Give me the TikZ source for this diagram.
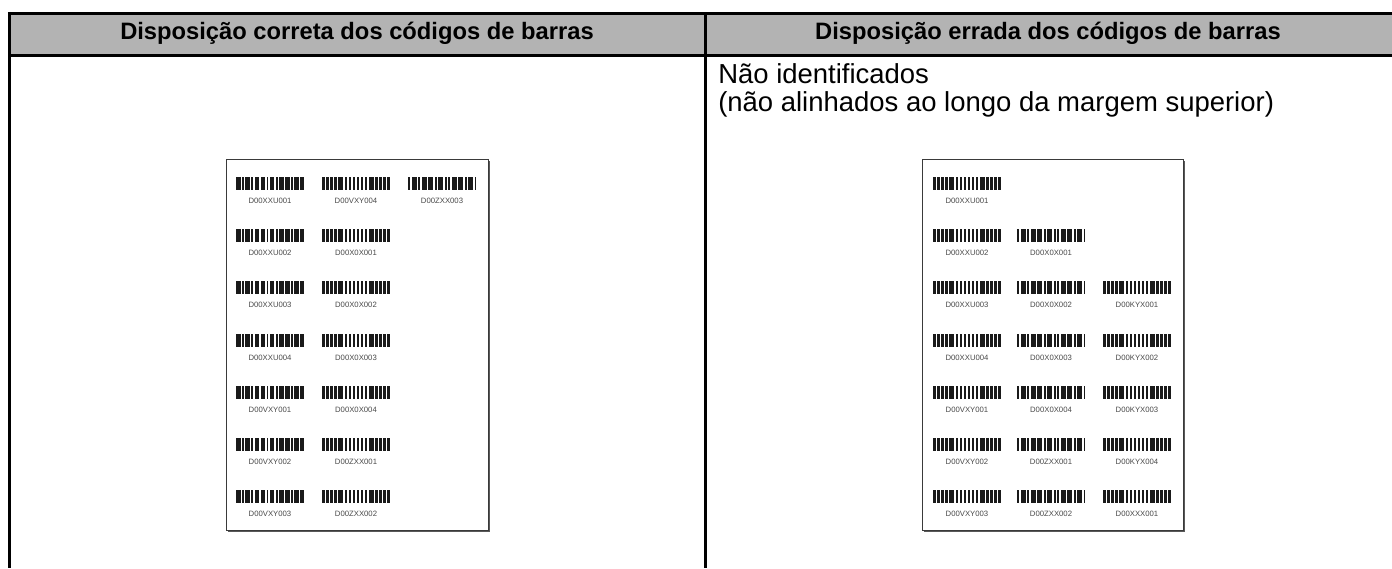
\documentclass[tikz,border=0pt]{standalone}
\usepackage{fontspec}
\setmainfont{Liberation Sans}
\definecolor{hdrgray}{HTML}{B3B3B3}
\definecolor{barink}{HTML}{1A1A1A}
\definecolor{lblink}{HTML}{4A4A4A}
\definecolor{pageedge}{HTML}{3A3A3A}
\tikzset{
  tableline/.style={line width=2.25pt,black},
  hdrtext/.style={font=\fontsize{17.8}{20}\selectfont\bfseries,text=black,inner sep=0pt},
  bodytext/.style={font=\fontsize{20.6}{23}\selectfont,text=black,inner sep=0pt,anchor=base west},
  pagebox/.style={draw=pageedge,line width=0.75pt,fill=white},
  pageshadow/.style={fill=black!65},
  barfill/.style={fill=barink},
  bclabel/.style={font=\fontsize{5.8}{6.5}\selectfont,text=lblink,inner sep=0pt}
}
\def\patA{0/4.5,6/7.5,9/13.5,15/17,18.5/23,24.5/29,30.5/32,33.5/38,39.5/41.5,43/47.5,49/53.5,55/56.5,58/62.5,64/68}
\def\patB{0/2.5,4/6.5,8/10.5,12/14.5,16/21,22.5/25,26.5/29,30.5/33,34.5/37,38.5/41,42.5/45,46.5/51.5,53/55.5,57/59.5,61/63.5,65/68}
\def\patC{0/2,3.5/8.5,10/12,13.5/18.5,20/25,26.5/28.5,30/35,36.5/38.5,40/42,43.5/48.5,50/55,56.5/58.5,60/65,66.5/68}
\newcommand\mybarcode[5]{%
  \begin{scope}[shift={(#2,#3)}]
    \foreach \a/\b in #4 {\fill[barfill] (\a,0) rectangle (\b,13);}
    \node[bclabel] (#1) at (34,24) {#5};
  \end{scope}}
\begin{document}
\begin{tikzpicture}[x=0.75pt,y=-0.75pt]
\useasboundingbox (0,0) rectangle (1392,568);
% header band
\fill[hdrgray] (9,13) rectangle (1392,55);
\draw[tableline] (7.9,13) -- (1392,13);
\draw[tableline] (9,55) -- (1392,55);
\draw[tableline] (9,11.9) -- (9,568);
\draw[tableline] (705,13) -- (705,568);
\node[hdrtext] (hleft) at (357,33.5) {Disposição correta dos códigos de barras};
\node[hdrtext] (hright) at (1048,33.5) {Disposição errada dos códigos de barras};
\node[bodytext] (t1) at (718,83) {Não identificados};
\node[bodytext] (t2) at (718,111) {(não alinhados ao longo da margem superior)};
% pages
\fill[pageshadow] (228,161) rectangle (490,532);
\draw[pagebox] (226,159) rectangle (488,530);
\node[inner sep=0pt] (pageL) at (357,344.5) {};
\fill[pageshadow] (924,161) rectangle (1185,532);
\draw[pagebox] (922,159) rectangle (1183,530);
\node[inner sep=0pt] (pageR) at (1052.5,344.5) {};
% left page barcodes
\mybarcode{L11}{236}{177}{\patA}{D00XXU001}
\mybarcode{L12}{322}{177}{\patB}{D00VXY004}
\mybarcode{L13}{408}{177}{\patC}{D00ZXX003}
\mybarcode{L21}{236}{229}{\patA}{D00XXU002}
\mybarcode{L22}{322}{229}{\patB}{D00X0X001}
\mybarcode{L31}{236}{281}{\patA}{D00XXU003}
\mybarcode{L32}{322}{281}{\patB}{D00X0X002}
\mybarcode{L41}{236}{334}{\patA}{D00XXU004}
\mybarcode{L42}{322}{334}{\patB}{D00X0X003}
\mybarcode{L51}{236}{386}{\patA}{D00VXY001}
\mybarcode{L52}{322}{386}{\patB}{D00X0X004}
\mybarcode{L61}{236}{438}{\patA}{D00VXY002}
\mybarcode{L62}{322}{438}{\patB}{D00ZXX001}
\mybarcode{L71}{236}{490}{\patA}{D00VXY003}
\mybarcode{L72}{322}{490}{\patB}{D00ZXX002}
% right page barcodes
\mybarcode{R11}{933}{177}{\patB}{D00XXU001}
\mybarcode{R21}{933}{229}{\patB}{D00XXU002}
\mybarcode{R22}{1017}{229}{\patC}{D00X0X001}
\mybarcode{R31}{933}{281}{\patB}{D00XXU003}
\mybarcode{R32}{1017}{281}{\patC}{D00X0X002}
\mybarcode{R33}{1103}{281}{\patB}{D00KYX001}
\mybarcode{R41}{933}{334}{\patB}{D00XXU004}
\mybarcode{R42}{1017}{334}{\patC}{D00X0X003}
\mybarcode{R43}{1103}{334}{\patB}{D00KYX002}
\mybarcode{R51}{933}{386}{\patB}{D00VXY001}
\mybarcode{R52}{1017}{386}{\patC}{D00X0X004}
\mybarcode{R53}{1103}{386}{\patB}{D00KYX003}
\mybarcode{R61}{933}{438}{\patB}{D00VXY002}
\mybarcode{R62}{1017}{438}{\patC}{D00ZXX001}
\mybarcode{R63}{1103}{438}{\patB}{D00KYX004}
\mybarcode{R71}{933}{490}{\patB}{D00VXY003}
\mybarcode{R72}{1017}{490}{\patC}{D00ZXX002}
\mybarcode{R73}{1103}{490}{\patB}{D00XXX001}
\end{tikzpicture}
\end{document}
